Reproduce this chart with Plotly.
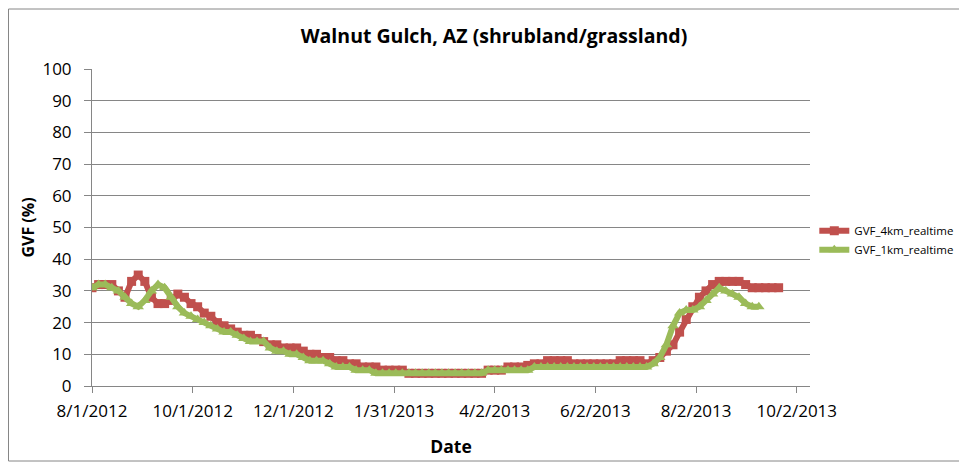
import plotly.graph_objects as go
import pandas as pd

# Fechas de muestreo (cada 4 dias desde el inicio)
fecha_inicio = "2012-08-01"
paso_dias = 4

gvf_4km = [
    31, 32, 32, 32, 30, 28, 33, 35, 33, 28,
    26, 26, 27, 29, 28, 26, 25, 23, 22, 20,
    19, 18, 17, 16, 16, 15, 14, 13, 13, 12,
    12, 12, 11, 10, 10, 9, 9, 8, 8, 7,
    7, 6, 6, 6, 5, 5, 5, 5, 4, 4,
    4, 4, 4, 4, 4, 4, 4, 4, 4, 4,
    5, 5, 5, 6, 6, 6, 6.5, 7, 7, 8,
    8, 8, 8, 7, 7, 7, 7, 7, 7, 7,
    8, 8, 8, 8, 7, 8, 9, 11, 13, 17,
    21, 25, 28, 30, 32, 33, 33, 33, 33, 32,
    31, 31, 31, 31, 31,
]

gvf_1km = [
    31, 32, 32, 31, 30, 28, 26, 25, 27, 30,
    32, 31, 28, 25, 23, 22, 21, 20, 19, 18,
    17, 17, 16, 15, 14, 14, 14, 12, 11, 11,
    10, 10, 9, 8, 8, 8, 7, 6, 6, 6,
    5, 5, 5, 4, 4, 4, 4, 4, 4, 4,
    4, 4, 4, 4, 4, 4, 4, 4, 4, 4,
    5, 5, 5, 5, 5, 5, 5, 6, 6, 6,
    6, 6, 6, 6, 6, 6, 6, 6, 6, 6,
    6, 6, 6, 6, 6, 7, 9, 13, 19, 23,
    24, 24, 25, 27, 29, 31, 30, 29, 28, 26,
    25, 25,
]

tick_fechas = ["2012-08-01", "2012-10-01", "2012-12-01", "2013-01-31",
               "2013-04-02", "2013-06-02", "2013-08-02", "2013-10-02"]
tick_textos = ["8/1/2012", "10/1/2012", "12/1/2012", "1/31/2013",
               "4/2/2013", "6/2/2013", "8/2/2013", "10/2/2013"]

fechas_4km = pd.date_range(fecha_inicio, periods=len(gvf_4km), freq=f"{paso_dias}D")
fechas_1km = pd.date_range(fecha_inicio, periods=len(gvf_1km), freq=f"{paso_dias}D")

rojo = "#C0504D"
verde = "#9BBB59"
gris = "#868686"
fuente = "Open Sans"

fig = go.Figure()

fig.add_trace(go.Scatter(
    x=fechas_4km, y=gvf_4km,
    mode="lines+markers",
    name="GVF_4km_realtime",
    line=dict(color=rojo, width=6),
    marker=dict(symbol="square", size=9, color=rojo),
))

fig.add_trace(go.Scatter(
    x=fechas_1km, y=gvf_1km,
    mode="lines+markers",
    name="GVF_1km_realtime",
    line=dict(color=verde, width=6),
    marker=dict(symbol="triangle-up", size=10, color=verde),
))

# la pagina tiene 8px de margen en el body -> figura de 959x460
W, H = 959, 460
L, R, T, B = 84, 157, 61, 82
ancho_pa = W - L - R
alto_pa = H - T - B

# Marco exterior del grafico (estilo Excel)
fig.add_shape(
    type="rect", xref="paper", yref="paper", layer="below",
    x0=(0.5 - L) / ancho_pa, x1=(955 - L) / ancho_pa,
    y0=(H - B - 453) / alto_pa, y1=(H - B - 1) / alto_pa,
    line=dict(color=gris, width=1),
)

fig.update_layout(
    width=W, height=H,
    margin=dict(l=L, r=R, t=T, b=B, autoexpand=False),
    paper_bgcolor="white",
    plot_bgcolor="white",
    font=dict(family=fuente, color="black"),
    title=dict(
        text="<b>Walnut Gulch, AZ (shrubland/grassland)</b>",
        x=486 / W, xanchor="center",
        y=1 - 28 / H, yanchor="middle",
        font=dict(size=19.5, family=fuente),
    ),
    xaxis=dict(
        type="date",
        range=["2012-08-01", "2013-10-10"],
        tickvals=tick_fechas,
        ticktext=tick_textos,
        showgrid=False,
        showline=True, linecolor=gris, linewidth=1,
        ticks="outside", ticklen=6, tickcolor=gris,
        ticklabelstandoff=4,
        tickfont=dict(size=17),
        title=dict(text="<b>Date</b>", font=dict(size=17.5), standoff=19),
        zeroline=False,
    ),
    yaxis=dict(
        range=[0, 100],
        dtick=10,
        showgrid=True, gridcolor=gris, gridwidth=1,
        showline=True, linecolor=gris, linewidth=1,
        ticks="outside", ticklen=7, tickcolor=gris,
        ticklabelstandoff=9,
        tickfont=dict(size=17),
        title=dict(text="<b>GVF (%)</b>", font=dict(size=16), standoff=3),
        zeroline=False,
    ),
    legend=dict(
        x=1.006, xanchor="left",
        y=0.46, yanchor="middle",
        font=dict(size=11.5),
        itemwidth=30,
        bgcolor="rgba(0,0,0,0)",
    ),
    showlegend=True,
)

fig.write_html("out.html")
